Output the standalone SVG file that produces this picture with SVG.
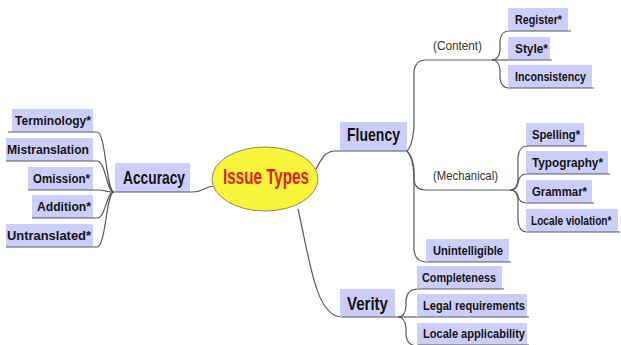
<svg xmlns="http://www.w3.org/2000/svg" width="621" height="345" viewBox="0 0 621 345">
<style>
.box{fill:#cdcdfa}
.ul{stroke:#5a5a5a;stroke-width:1.2;fill:none}
.c{stroke:#5a5a5a;stroke-width:1.2;fill:none}
.lbl{font-family:"Liberation Sans",Arial,sans-serif;font-weight:bold;font-size:13px;fill:#141414}
.big{font-family:"Liberation Sans",Arial,sans-serif;font-weight:bold;font-size:19px;fill:#141414}
.grp{font-family:"Liberation Sans",Arial,sans-serif;font-size:13px;fill:#333}
</style>
<rect width="621" height="345" fill="#ffffff"/>
<g id="connectors">
  <path class="c" d="M97,132 C106,132 106,192 114,192"/>
  <path class="c" d="M97,161 C106,161 106,192 114,192"/>
  <path class="c" d="M97,190 C106,190 106,192 114,192"/>
  <path class="c" d="M97,218 C106,218 106,192 114,192"/>
  <path class="c" d="M97,247 C106,247 106,192 114,192"/>
  <path class="c" d="M192,192 C204,192 205,186 214,186"/>
  <path class="c" d="M316,169 C322,158 325,151 336,151"/>
  <path class="c" d="M298,209 C310,262 316,317 342,317"/>
  <path class="c" d="M407,151 Q413,145 414,125 L414,72 Q415,60 426,60"/>
  <path class="c" d="M407,151 Q413,157 414,170 L414,180 Q415,190 426,190"/>
  <path class="c" d="M407,151 Q413,157 414,175 L414,250 Q415,262 427,262"/>
  <path class="ul" d="M426,60 L492,60"/>
  <path class="ul" d="M426,190 L510,190"/>
  <path class="c" d="M492,60 Q499,60 500,50 L500,41 Q501,31 509,31"/>
  <path class="c" d="M492,60 L509,60"/>
  <path class="c" d="M492,60 Q499,60 500,70 L500,78 Q501,88 509,88"/>
  <path class="c" d="M510,190 Q517,190 518,180 L518,157 Q519,146 527,146"/>
  <path class="c" d="M510,190 Q517,190 518,183 Q519,174 527,174"/>
  <path class="c" d="M510,190 Q517,190 518,196 Q519,203 527,203"/>
  <path class="c" d="M510,190 Q517,190 518,200 L518,221 Q519,232 527,232"/>
  <path class="c" d="M398,317 Q405,317 406,306 L406,300 Q407,289 418,289"/>
  <path class="c" d="M398,317 L418,317"/>
  <path class="c" d="M398,317 Q405,317 406,328 L406,335 Q407,346 418,346"/>
</g>
<g id="root">
  <ellipse cx="265" cy="179" rx="53" ry="32" fill="#f8f43a" stroke="#8a8a6a" stroke-width="1"/>
  <text x="223" y="184" textLength="86" lengthAdjust="spacingAndGlyphs" style="font-family:'Liberation Sans',Arial,sans-serif;font-weight:bold;font-size:22px;fill:#e3221f">Issue Types</text>
</g>
<g id="accuracy">
  <rect class="box" x="115" y="163" width="75" height="29"/>
  <line class="ul" x1="114" y1="192" x2="192" y2="192"/>
  <text class="big" x="123" y="184" textLength="62" lengthAdjust="spacingAndGlyphs">Accuracy</text>
</g>
<g id="terminology">
  <rect class="box" x="12" y="109" width="81" height="23"/>
  <line class="ul" x1="8" y1="132" x2="97" y2="132"/>
  <text class="lbl" x="15" y="125" textLength="76" lengthAdjust="spacingAndGlyphs">Terminology*</text>
</g>
<g id="mistranslation">
  <rect class="box" x="6" y="138" width="87" height="23"/>
  <line class="ul" x1="6" y1="161" x2="97" y2="161"/>
  <text class="lbl" x="7" y="154" textLength="82" lengthAdjust="spacingAndGlyphs">Mistranslation</text>
</g>
<g id="omission">
  <rect class="box" x="28" y="167" width="65" height="23"/>
  <line class="ul" x1="28" y1="190" x2="97" y2="190"/>
  <text class="lbl" x="33" y="183" textLength="57" lengthAdjust="spacingAndGlyphs">Omission*</text>
</g>
<g id="addition">
  <rect class="box" x="32" y="195" width="61" height="23"/>
  <line class="ul" x1="32" y1="218" x2="97" y2="218"/>
  <text class="lbl" x="37" y="211" textLength="54" lengthAdjust="spacingAndGlyphs">Addition*</text>
</g>
<g id="untranslated">
  <rect class="box" x="6" y="224" width="87" height="23"/>
  <line class="ul" x1="6" y1="247" x2="97" y2="247"/>
  <text class="lbl" x="7" y="240" textLength="84" lengthAdjust="spacingAndGlyphs">Untranslated*</text>
</g>
<g id="fluency">
  <rect class="box" x="340" y="122" width="67" height="29"/>
  <line class="ul" x1="336" y1="151" x2="407" y2="151"/>
  <text class="big" x="347" y="141" textLength="53" lengthAdjust="spacingAndGlyphs">Fluency</text>
</g>
<g id="content">
  <text class="grp" x="433" y="50" textLength="49" lengthAdjust="spacingAndGlyphs">(Content)</text>
</g>
<g id="register">
  <rect class="box" x="508" y="8" width="60" height="23"/>
  <line class="ul" x1="509" y1="31" x2="571" y2="31"/>
  <text class="lbl" x="515" y="24" textLength="47" lengthAdjust="spacingAndGlyphs">Register*</text>
</g>
<g id="style">
  <rect class="box" x="508" y="37" width="42" height="23"/>
  <line class="ul" x1="509" y1="60" x2="552" y2="60"/>
  <text class="lbl" x="515" y="53" textLength="33" lengthAdjust="spacingAndGlyphs">Style*</text>
</g>
<g id="inconsistency">
  <rect class="box" x="508" y="65" width="84" height="23"/>
  <line class="ul" x1="509" y1="88" x2="594" y2="88"/>
  <text class="lbl" x="515" y="81" textLength="71" lengthAdjust="spacingAndGlyphs">Inconsistency</text>
</g>
<g id="mechanical">
  <text class="grp" x="433" y="180" textLength="65" lengthAdjust="spacingAndGlyphs">(Mechanical)</text>
</g>
<g id="spelling">
  <rect class="box" x="526" y="123" width="58" height="23"/>
  <line class="ul" x1="527" y1="146" x2="587" y2="146"/>
  <text class="lbl" x="532" y="139" textLength="48" lengthAdjust="spacingAndGlyphs">Spelling*</text>
</g>
<g id="typography">
  <rect class="box" x="526" y="151" width="82" height="23"/>
  <line class="ul" x1="527" y1="174" x2="610" y2="174"/>
  <text class="lbl" x="532" y="167" textLength="71" lengthAdjust="spacingAndGlyphs">Typography*</text>
</g>
<g id="grammar">
  <rect class="box" x="526" y="180" width="66" height="23"/>
  <line class="ul" x1="527" y1="203" x2="594" y2="203"/>
  <text class="lbl" x="532" y="196" textLength="55" lengthAdjust="spacingAndGlyphs">Grammar*</text>
</g>
<g id="locale-violation">
  <rect class="box" x="526" y="209" width="92" height="23"/>
  <line class="ul" x1="527" y1="232" x2="620" y2="232"/>
  <text class="lbl" transform="translate(531,225) scale(0.78,1)" x="0" y="0">Locale violation*</text>
</g>
<g id="unintelligible">
  <rect class="box" x="426" y="239" width="83" height="23"/>
  <line class="ul" x1="427" y1="262" x2="511" y2="262"/>
  <text class="lbl" x="433" y="255" textLength="70" lengthAdjust="spacingAndGlyphs">Unintelligible</text>
</g>
<g id="verity">
  <rect class="box" x="340" y="289" width="55" height="28"/>
  <line class="ul" x1="342" y1="317" x2="398" y2="317"/>
  <text class="big" x="347" y="310" textLength="41" lengthAdjust="spacingAndGlyphs">Verity</text>
</g>
<g id="completeness">
  <rect class="box" x="417" y="266" width="85" height="23"/>
  <line class="ul" x1="418" y1="289" x2="504" y2="289"/>
  <text class="lbl" x="422" y="282" textLength="74" lengthAdjust="spacingAndGlyphs">Completeness</text>
</g>
<g id="legal-requirements">
  <rect class="box" x="417" y="294" width="110" height="23"/>
  <line class="ul" x1="418" y1="317" x2="529" y2="317"/>
  <text class="lbl" x="423" y="310" textLength="102" lengthAdjust="spacingAndGlyphs">Legal requirements</text>
</g>
<g id="locale-applicability">
  <rect class="box" x="417" y="323" width="110" height="22"/>
  <line class="ul" x1="418" y1="345" x2="529" y2="345"/>
  <text class="lbl" x="423" y="338" textLength="102" lengthAdjust="spacingAndGlyphs">Locale applicability</text>
</g>
</svg>
